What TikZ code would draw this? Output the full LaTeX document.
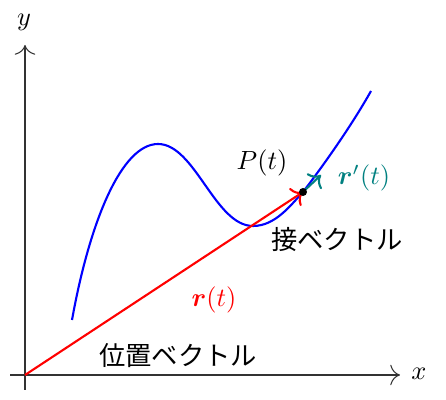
\documentclass[tikz,border=0pt]{standalone}
\usepackage{amsmath}
\usepackage{bm}
\usepackage{fontspec}
\usetikzlibrary{arrows.meta}
\newfontfamily\cjk{Noto Sans CJK JP}
\definecolor{tealc}{RGB}{0,128,128}
\begin{document}
\begin{tikzpicture}[x=0.38pt,y=-0.38pt,
  axis/.style={-{To[scale=1.5]},black!80},
  curvestyle/.style={blue,thick},
  posvec/.style={-{To[scale=1.15]},red,thick},
  tanvec/.style={-{To[scale=1.15]},tealc,thick},
  lbl/.style={inner sep=0pt,font=\fontsize{10}{12}\selectfont}]
\useasboundingbox (0,0) rectangle (446,400);
\coordinate (O) at (25,375);
\coordinate (xs) at (10,375);
\coordinate (xe) at (400,375);
\coordinate (ys) at (25,390);
\coordinate (ye) at (25,45);
\draw[axis] (xs) -- (xe);
\draw[axis] (ys) -- (ye);
\node[lbl] (xl) at (419,374) {$x$};
\node[lbl] (yl) at (24,22) {$y$};
\coordinate (C0) at (72,320);
\coordinate (C1) at (158,144);
\coordinate (C2) at (253,226);
\coordinate (P) at (303,192);
\coordinate (C4) at (371,91);
\draw[curvestyle] (C0) .. controls (90,220) and (122,144) .. (C1)
  .. controls (195,144) and (215,226) .. (C2)
  .. controls (275,226) and (290,206) .. (P)
  .. controls (323,166) and (352,125) .. (C4);
\coordinate (T) at (321,175);
\draw[posvec] (O) -- (P);
\draw[tanvec] (P) -- (T);
\fill[black] (P) circle (4);
\node[lbl] (Pl) at (262,163) {$P(t)$};
\node[lbl,text=tealc] (rpl) at (364,178) {$\bm{r}'(t)$};
\node[lbl,text=red] (rl) at (214,300) {$\bm{r}(t)$};
\node[lbl] (tl) at (337,240) {\cjk 接ベクトル};
\node[lbl] (pl) at (178,356) {\cjk 位置ベクトル};
\end{tikzpicture}
\end{document}
